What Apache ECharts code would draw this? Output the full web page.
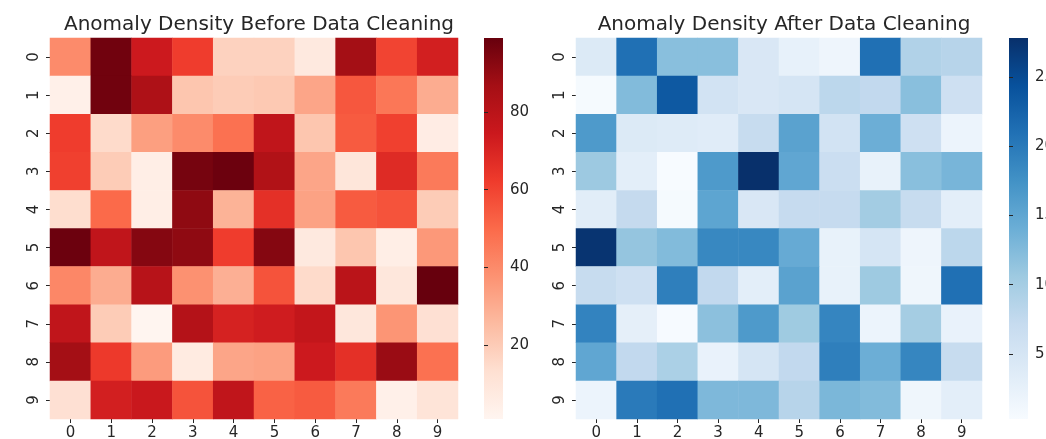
<!DOCTYPE html>
<html>
<head>
<meta charset="utf-8">
<script src="https://cdn.jsdelivr.net/npm/echarts@6/dist/echarts.min.js"></script>
<style>
html,body{margin:0;padding:0;background:#ffffff;}
#chart{width:1046px;height:439px;}
</style>
</head>
<body>
<div id="chart"></div>
<script>
// ---- Data ----
var categories = ['0','1','2','3','4','5','6','7','8','9'];
var titleBefore = 'Anomaly Density Before Data Cleaning';
var titleAfter = 'Anomaly Density After Data Cleaning';

// rows 0..9 (top to bottom), columns 0..9
var beforeValues = [
  [40, 97, 74, 62, 18, 18,  8, 87, 60, 72],
  [ 4, 97, 84, 22, 20, 21, 32, 55, 46, 30],
  [62, 15, 34, 40, 48, 78, 22, 54, 61,  6],
  [61, 20,  5, 96, 98, 83, 32, 10, 68, 45],
  [14, 50,  5, 91, 28, 66, 33, 54, 56, 20],
  [98, 78, 93, 91, 62, 93,  8, 22,  5, 36],
  [41, 30, 81, 38, 29, 56, 15, 80,  9, 99],
  [78, 20,  1, 82, 71, 73, 77,  9, 37, 13],
  [87, 63, 35,  7, 32, 33, 74, 66, 89, 48],
  [13, 72, 75, 56, 78, 52, 54, 45,  4, 11]
];

var afterValues = [
  [ 4.0, 21.0, 12.0, 12.0,  4.5,  2.5,  1.5, 21.0,  9.0,  8.5],
  [ 0.6, 12.5, 23.5,  5.5,  4.5,  5.0,  8.0,  7.5, 12.0,  6.0],
  [16.5,  4.0,  3.8,  3.5,  7.0, 15.5,  5.5, 14.0,  6.0,  1.8],
  [10.7,  3.0,  0.3, 16.5, 27.8, 15.0,  6.5,  2.3, 12.0, 13.2],
  [ 3.3,  7.3,  0.6, 15.2,  4.5,  7.2,  7.2, 10.2,  7.0,  3.0],
  [27.4, 11.2, 12.5, 18.5, 18.5, 14.5,  2.3,  5.0,  1.6,  8.0],
  [ 7.0,  6.0, 19.5,  7.5,  3.0, 15.5,  2.3, 10.6,  1.4, 21.0],
  [19.0,  2.8,  0.5, 11.8, 16.5, 10.5, 18.8,  1.8, 10.0,  2.2],
  [15.0,  7.5,  9.5,  2.2,  5.0,  7.5, 19.5, 14.0, 18.7,  7.0],
  [ 1.8, 20.0, 21.0, 12.8, 12.8,  8.5, 13.0, 12.5,  1.4,  3.0]
];

var beforeTicks = [20, 40, 60, 80];
var afterTicks = [5, 10, 15, 20, 25];

// ---- Colormaps ----
var REDS = ['#fff5f0','#fee0d2','#fcbba1','#fc9272','#fb6a4a','#ef3b2c','#cb181d','#a50f15','#67000d'];
var BLUES = ['#f7fbff','#deebf7','#c6dbef','#9ecae1','#6baed6','#4292c6','#2171b5','#08519c','#08306b'];

function toTriples(m) {
  var out = [];
  for (var r = 0; r < m.length; r++)
    for (var c = 0; c < m[r].length; c++)
      out.push([c, r, m[r][c]]);
  return out;
}
function flatMin(m){ return Math.min.apply(null, [].concat.apply([], m)); }
function flatMax(m){ return Math.max.apply(null, [].concat.apply([], m)); }
function gradient(colors) {
  var stops = [];
  for (var i = 0; i < colors.length; i++) {
    stops.push({offset: i / (colors.length - 1), color: colors[colors.length - 1 - i]});
  }
  return new echarts.graphic.LinearGradient(0, 0, 0, 1, stops);
}

var bMin = flatMin(beforeValues), bMax = flatMax(beforeValues);
var aMin = flatMin(afterValues), aMax = flatMax(afterValues);

var FONT = 'DejaVu Sans';
var TXT = '#262626';

function heatX(gi) {
  return {
    type: 'category', gridIndex: gi, data: categories, position: 'bottom',
    axisLine: {show: false},
    axisTick: {show: true, alignWithLabel: true, length: 4, lineStyle: {color: TXT, width: 1}},
    axisLabel: {fontFamily: FONT, fontSize: 15, color: TXT, margin: 7},
    splitLine: {show: false}, splitArea: {show: false}
  };
}
function heatY(gi) {
  return {
    type: 'category', gridIndex: gi, data: categories, inverse: true,
    axisLine: {show: false},
    axisTick: {show: true, alignWithLabel: true, length: 4, lineStyle: {color: TXT, width: 1}},
    axisLabel: {fontFamily: FONT, fontSize: 15, color: TXT, margin: 8, rotate: 90},
    splitLine: {show: false}, splitArea: {show: false}
  };
}
function barX(gi) {
  return {type: 'value', gridIndex: gi, show: false, min: 0, max: 1};
}
function barY(gi, mn, mx, ticks) {
  return {
    type: 'value', gridIndex: gi, min: mn, max: mx, position: 'right',
    axisLine: {show: false},
    splitLine: {show: false},
    axisTick: {show: true, length: 4, customValues: ticks, lineStyle: {color: TXT, width: 1}},
    axisLabel: {fontFamily: FONT, fontSize: 15, color: TXT, margin: 7, customValues: ticks}
  };
}

var chart = echarts.init(document.getElementById('chart'), null, {renderer: 'canvas'});
chart.setOption({
  backgroundColor: '#ffffff',
  animation: false,
  title: [
    {text: titleBefore, left: 254, top: 10, textAlign: 'center',
     textStyle: {fontFamily: FONT, fontSize: 20, fontWeight: 'normal', color: TXT}},
    {text: titleAfter, left: 779, top: 10, textAlign: 'center',
     textStyle: {fontFamily: FONT, fontSize: 20, fontWeight: 'normal', color: TXT}}
  ],
  grid: [
    {left: 50, top: 38, width: 408, height: 381, outerBoundsMode: 'none', containLabel: false},
    {left: 484, top: 38, width: 19, height: 381, show: true, borderWidth: 0, backgroundColor: gradient(REDS), outerBoundsMode: 'none', containLabel: false},
    {left: 576, top: 38, width: 406, height: 381, outerBoundsMode: 'none', containLabel: false},
    {left: 1009, top: 38, width: 19, height: 381, show: true, borderWidth: 0, backgroundColor: gradient(BLUES), outerBoundsMode: 'none', containLabel: false}
  ],
  xAxis: [heatX(0), barX(1), heatX(2), barX(3)],
  yAxis: [heatY(0), barY(1, bMin, bMax, beforeTicks), heatY(2), barY(3, aMin, aMax, afterTicks)],
  visualMap: [
    {type: 'continuous', show: false, seriesIndex: 0, min: bMin, max: bMax, inRange: {color: REDS}},
    {type: 'continuous', show: false, seriesIndex: 1, min: aMin, max: aMax, inRange: {color: BLUES}}
  ],
  series: [
    {type: 'heatmap', xAxisIndex: 0, yAxisIndex: 0, data: toTriples(beforeValues),
     itemStyle: {borderWidth: 0}, emphasis: {disabled: true}},
    {type: 'heatmap', xAxisIndex: 2, yAxisIndex: 2, data: toTriples(afterValues),
     itemStyle: {borderWidth: 0}, emphasis: {disabled: true}}
  ]
});
</script>
</body>
</html>
